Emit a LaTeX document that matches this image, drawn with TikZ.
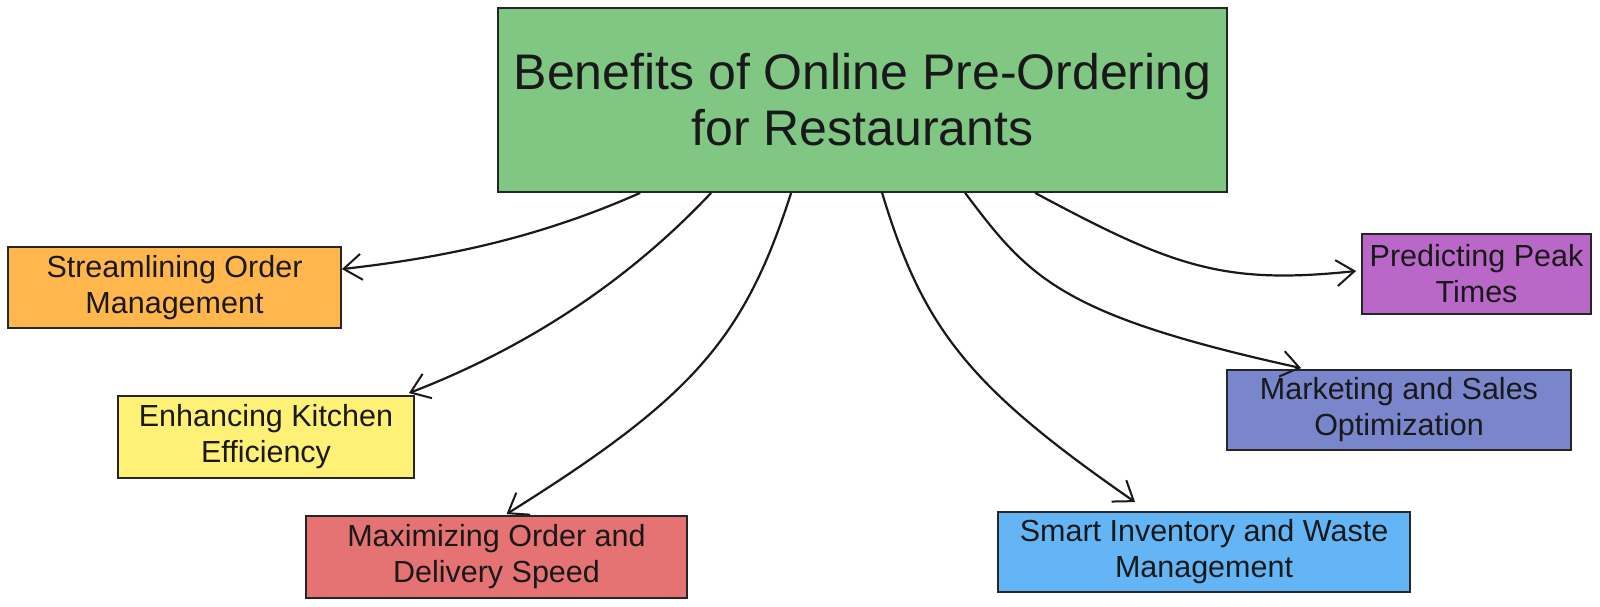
\documentclass[tikz,border=0pt]{standalone}
\usepackage{fontspec}
\setmainfont{Liberation Sans}
\usetikzlibrary{arrows.meta}
\definecolor{cgreen}{HTML}{81C784}
\definecolor{corange}{HTML}{FFB74D}
\definecolor{cyellow}{HTML}{FFF176}
\definecolor{cred}{HTML}{E57373}
\definecolor{cblue}{HTML}{64B5F6}
\definecolor{cindigo}{HTML}{7986CB}
\definecolor{cpurple}{HTML}{BA68C8}
\tikzset{
  box/.style={draw=black!85, line width=1.8pt, inner sep=0pt, align=center,
    font=\fontsize{30.5}{36}\selectfont, text=black!90},
  titlebox/.style={box, font=\fontsize{50}{56}\selectfont},
  link/.style={line width=2.2pt, black!90, -{Straight Barb[length=18pt,width=26pt,line width=2pt]}}
}
\begin{document}
\begin{tikzpicture}[x=1pt,y=-1pt]
\useasboundingbox[fill=white] (0,0) rectangle (1600,607);
\node[titlebox, fill=cgreen, minimum width=729pt, minimum height=184pt] (title) at (862.5,100) {Benefits of Online Pre-Ordering\\for Restaurants};
\node[box, fill=corange, minimum width=333pt, minimum height=81pt] (s1) at (174.5,287.5) {Streamlining Order\\Management};
\node[box, fill=cyellow, minimum width=296pt, minimum height=82pt] (s2) at (266,437) {Enhancing Kitchen\\Efficiency};
\node[box, fill=cred, minimum width=381pt, minimum height=82pt] (s3) at (496.5,557) {Maximizing Order and\\Delivery Speed};
\node[box, fill=cblue, minimum width=412pt, minimum height=80pt] (s4) at (1204,552) {Smart Inventory and Waste\\Management};
\node[box, fill=cindigo, minimum width=344pt, minimum height=80pt] (s5) at (1399,410) {Marketing and Sales\\Optimization};
\node[box, fill=cpurple, minimum width=229pt, minimum height=80pt] (s6) at (1476.5,274) {Predicting Peak\\Times};

\draw[link] ([xshift=143pt]title.south west) .. controls +(-110,49) and +(88,-10) .. ([yshift=-23pt]s1.north east);
\draw[link] ([xshift=214pt]title.south west) .. controls +(-80,85) and +(122,-47) .. ([xshift=-6pt,yshift=2pt]s2.north east);
\draw[link] ([xshift=294pt]title.south west) .. controls +(-47,146) and +(187,-117) .. ([xshift=10pt,yshift=1pt]s3.north);
\draw[link] ([xshift=385pt]title.south west) .. controls +(41,136) and +(-166,-115) .. ([xshift=138pt,yshift=9pt]s4.north west);
\draw[link] ([xshift=468pt]title.south west) .. controls +(64,85) and +(-241,-53) .. ([xshift=75pt,yshift=1pt]s5.north west);
\draw[link] ([xshift=538pt]title.south west) .. controls +(138,74) and +(-133,14) .. ([xshift=-5pt,yshift=3pt]s6.west);
\end{tikzpicture}
\end{document}
